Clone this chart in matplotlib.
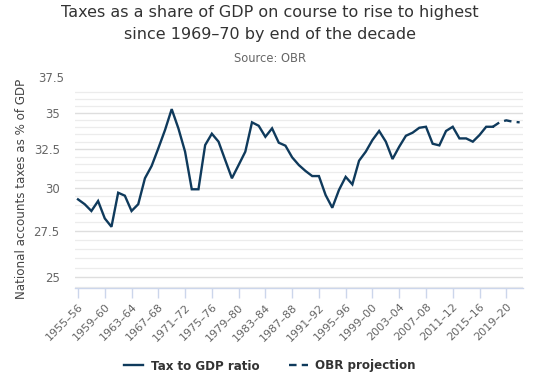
import matplotlib
matplotlib.use("Agg")
import matplotlib.pyplot as plt
import matplotlib.transforms as mtransforms
from matplotlib.lines import Line2D
from matplotlib.ticker import FixedLocator, NullFormatter
import numpy as np

start_years = list(range(1955, 2022))
categories = [f"{y}–{(y + 1) % 100:02d}" for y in start_years]

tax_ratio = [
    29.32, 29.03, 28.63, 29.22, 28.20, 27.72, 29.72, 29.54, 28.63, 29.03,
    30.61, 31.39, 32.54, 33.78, 35.26, 33.90, 32.32, 29.93, 29.93, 32.76,
    33.53, 32.99, 31.77, 30.61, 31.45, 32.32, 34.32, 34.08, 33.32, 33.90,
    32.92, 32.72, 31.95, 31.45, 31.07, 30.75, 30.75, 29.58, 28.82, 29.89,
    30.70, 30.23, 31.73, 32.32, 33.10, 33.72, 32.99, 31.84, 32.65, 33.39,
    33.60, 33.94, 34.01, 32.85, 32.74, 33.72, 34.01, 33.21, 33.21, 32.99,
    33.44, 34.01, 34.01,
]
projection = [34.01, 34.32, 34.46, 34.36, 34.32]

y_ticks = [25, 27.5, 30, 32.5, 35]
y_tick_labels = ["25", "27.5", "30", "32.5", "35"]
extra_label_value = 37.5

W, H = 540, 378
fig = plt.figure(figsize=(W / 100, H / 100), dpi=100)
fig.patch.set_facecolor("white")
ax = fig.add_axes([75 / W, 1 - 288 / H, (523 - 75) / W, (288 - 89) / H])

line_color = "#0f3a5c"
x_obs = np.arange(len(tax_ratio))
x_proj = np.arange(len(tax_ratio) - 1, len(tax_ratio) - 1 + len(projection))
ax.plot(x_obs, tax_ratio, color=line_color, lw=1.7, solid_joinstyle="miter", zorder=3)
ax.plot(x_proj, projection, color=line_color, lw=1.7, dashes=(3.2, 2.2), zorder=3)

ax.set_yscale("log")
ax.set_ylim(24.46, 36.74)
ax.set_xlim(-0.45, len(categories) - 1 + 0.5)

ax.yaxis.set_major_locator(FixedLocator(y_ticks))
ax.set_yticklabels(y_tick_labels)
minor = [v for v in np.arange(24.5, 37.0, 0.5) if v not in y_ticks]
ax.yaxis.set_minor_locator(FixedLocator(minor))
ax.yaxis.set_minor_formatter(NullFormatter())
ax.tick_params(axis="y", which="both", length=0, pad=11, labelsize=8.5, labelcolor="#666666")
ax.grid(axis="y", which="major", color="#dedede", lw=1.0)
ax.grid(axis="y", which="minor", color="#ececec", lw=0.9)
ax.set_axisbelow(True)

trans = mtransforms.blended_transform_factory(ax.transAxes, ax.transData)
ax.text(-11 / 448, extra_label_value, "37.5", transform=trans, ha="right", va="center",
        fontsize=8.5, color="#666666", clip_on=False)

ax.set_xticks(range(0, len(categories), 4))
ax.set_xticklabels(categories[::4], rotation=45, ha="right", rotation_mode="anchor")
ax.tick_params(axis="x", length=7, width=1, color="#ccd6eb", labelsize=8, labelcolor="#666666", pad=3)

for s in ["top", "right", "left"]:
    ax.spines[s].set_visible(False)
ax.spines["bottom"].set_color("#ccd6eb")
ax.spines["bottom"].set_linewidth(1)

ax.set_ylabel("National accounts taxes as % of GDP", fontsize=8.6, color="#444444", labelpad=4)

fig.text(0.5, 1 - 13 / H, "Taxes as a share of GDP on course to rise to highest",
         ha="center", va="center", fontsize=11.5, color="#333333")
fig.text(0.5, 1 - 35 / H, "since 1969–70 by end of the decade",
         ha="center", va="center", fontsize=11.5, color="#333333")
fig.text(0.5, 1 - 58 / H, "Source: OBR", ha="center", va="center", fontsize=8.3, color="#666666")

handles = [Line2D([], [], color=line_color, lw=1.7),
           Line2D([], [], color=line_color, lw=1.7, dashes=(3.2, 2.2))]
leg = fig.legend(handles, ["Tax to GDP ratio", "OBR projection"], loc="center",
                 bbox_to_anchor=(0.5, 1 - 366 / H), ncol=2, frameon=False,
                 handlelength=1.6, columnspacing=2.5, handletextpad=0.6,
                 prop={"weight": "bold", "size": 8.6})
for t in leg.get_texts():
    t.set_color("#333333")

fig.savefig("out.png", dpi=100)
